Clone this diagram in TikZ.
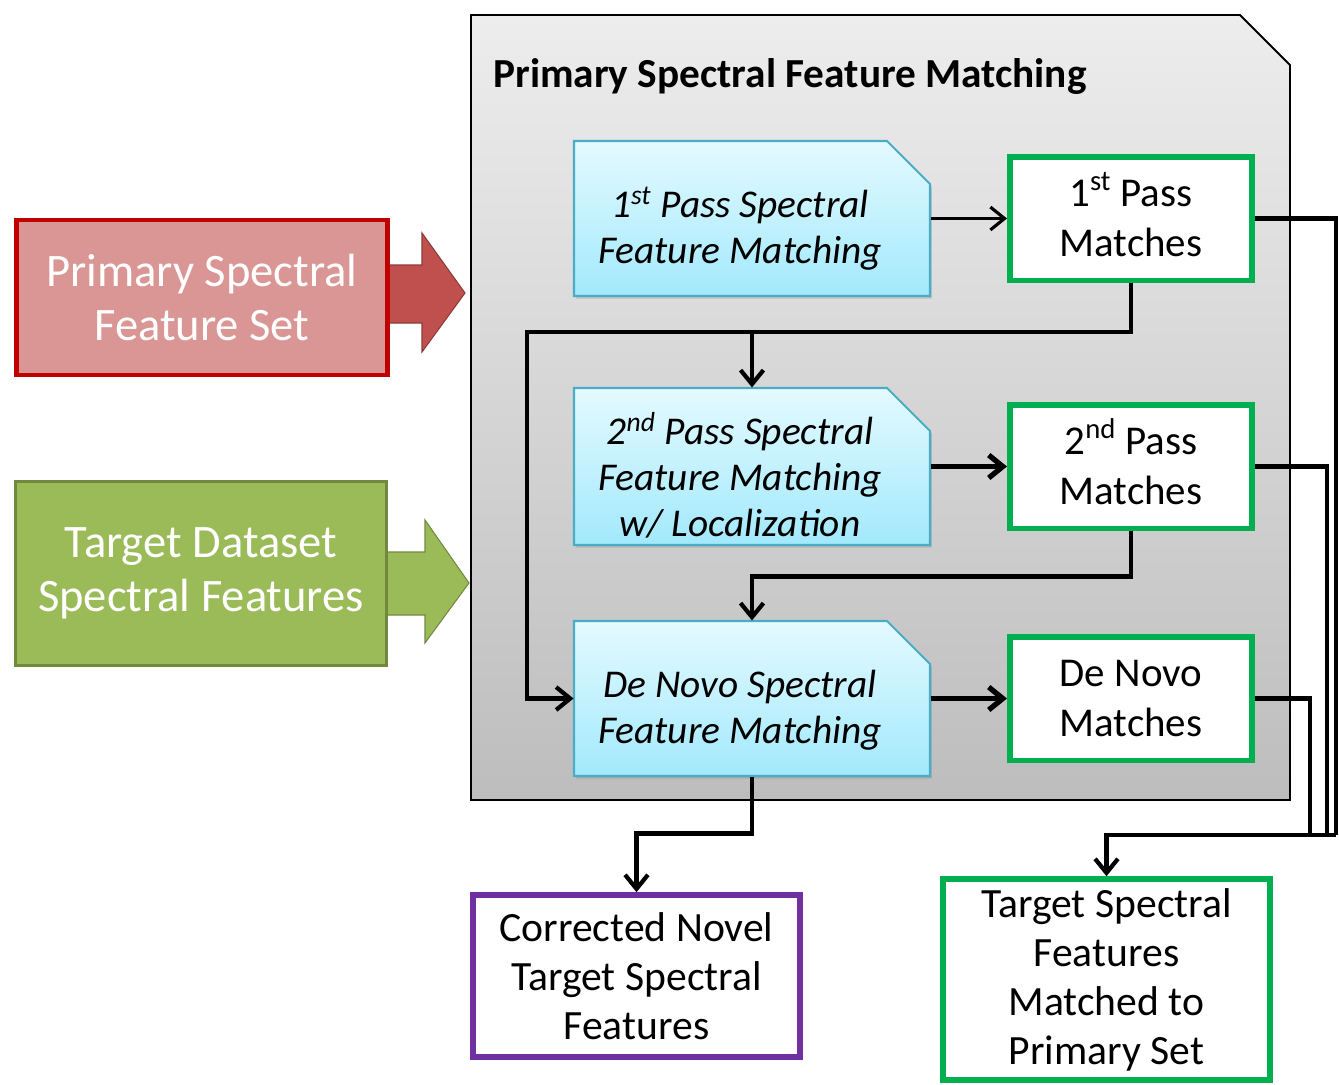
\documentclass[tikz,border=0pt]{standalone}
\usepackage{fontspec}
\setmainfont{Carlito}
\usetikzlibrary{positioning}
\usetikzlibrary{calc}
\usetikzlibrary{arrows.meta}
\usetikzlibrary{shadows}

\definecolor{inred}{HTML}{D99694}
\definecolor{inredline}{HTML}{C00000}
\definecolor{arrred}{HTML}{C0504D}
\definecolor{arrredline}{HTML}{8C3A38}
\definecolor{ingreen}{HTML}{9BBB59}
\definecolor{ingreenline}{HTML}{71893F}
\definecolor{passtop}{HTML}{E4FAFF}
\definecolor{passbot}{HTML}{A2E9FC}
\definecolor{passline}{HTML}{4BACC6}
\definecolor{matchline}{HTML}{00B050}
\definecolor{novelline}{HTML}{7030A0}
\definecolor{paneltop}{HTML}{EDEDED}
\definecolor{panelbot}{HTML}{BDBDBD}

\newcommand{\ord}[1]{\smash{\textsuperscript{#1}}}

\begin{document}
\begin{tikzpicture}[x=0.02cm,y=-0.02cm,semithick,
		wire/.style={line width=2.4pt,-{Straight Barb[length=8pt,width=13pt]}}]
		\tikzstyle{source}=[draw,rectangle,minimum width=7.42cm,align=center,text=white,
		font=\fontsize{26.5}{30.5}\selectfont]
		\tikzstyle{passframe}=[draw=passline,line width=1.2pt,top color=passtop,bottom color=passbot,
		drop shadow={shadow xshift=1pt,shadow yshift=-1.5pt,opacity=.3}]
		\tikzstyle{pass}=[minimum width=7.12cm,minimum height=3.1cm]
		\tikzstyle{passtext}=[align=center,font=\itshape\fontsize{22.4}{26.2}\selectfont]
		\tikzstyle{match}=[draw=matchline,line width=3.4pt,fill=white,minimum width=4.84cm,
		minimum height=2.48cm,align=center,font=\fontsize{23.3}{28.4}\selectfont]
		\tikzstyle{result}=[line width=3.2pt,fill=white,minimum width=6.54cm,align=center,
		font=\fontsize{23.7}{27.9}\selectfont]
		
		\useasboundingbox (0,0) rectangle (1339,1085);
		
		% matching panel
		\path[draw=black,line width=1.1pt,top color=paneltop,bottom color=panelbot]
		(471,15) -- (1240,15) -- (1290,65) -- (1290,800) -- (471,800) -- cycle;
		\node[anchor=west,font=\bfseries\fontsize{23.5}{27}\selectfont] (title) at (487,77) {Primary Spectral Feature Matching};
		
		% input arrows
		\draw[arrredline,fill=arrred,line width=0.6pt] (388,265) -- (422,265) -- (422,233) -- (465,293)
		-- (422,352) -- (422,323) -- (388,323) -- cycle;
		\draw[ingreenline,fill=ingreen,line width=0.6pt] (386,552) -- (425,552) -- (425,520) -- (469,583)
		-- (425,643) -- (425,615) -- (386,615) -- cycle;
		
		\node[source,draw=inredline,line width=2.8pt,fill=inred,minimum height=3.1cm] (prim) at (202,297.5) {Primary Spectral\\Feature Set};
		\node[source,draw=ingreenline,line width=1.7pt,fill=ingreen,minimum height=3.68cm] (tgt) at (201,573.5) {Target Dataset\\Spectral Features};
		
		% cut-corner boxes of the three passes
		\draw[passframe] (574,141) -- (887,141) -- (930,184) -- (930,296) -- (574,296) -- cycle;
		\draw[passframe] (574,388) -- (887,388) -- (930,431) -- (930,545) -- (574,545) -- cycle;
		\draw[passframe] (574,621) -- (887,621) -- (930,664) -- (930,776) -- (574,776) -- cycle;
		
		\node[pass]                       (p1) at (752,218.5) {};
		\node[pass,minimum height=3.14cm] (p2) at (752,466.5) {};
		\node[pass]                       (p3) at (752,698.5) {};
		\node[passtext] (p1text) at ([shift={(-12,12)}]p1.center) {1\ord{st} Pass Spectral\\Feature Matching};
		\node[passtext] (p2text) at ([shift={(-12,11)}]p2.center) {2\ord{nd} Pass Spectral\\Feature Matching\\w/ Localization};
		\node[passtext] (p3text) at ([shift={(-12,12)}]p3.center) {De Novo Spectral\\Feature Matching};
		
		\node[match] (m1) [right=1.53cm of p1] {1\ord{st} Pass\\Matches};
		\node[match] (m2) [right=1.53cm of p2] {2\ord{nd} Pass\\Matches};
		\node[match] (m3) [right=1.53cm of p3] {De Novo\\Matches};
		
		\node[result,draw=novelline,minimum height=3.24cm] (novel) at (636.5,976) {Corrected Novel\\Target Spectral\\Features};
		\node[result,draw=matchline,minimum height=4.02cm] (matched) at (1106.5,979.5) {Target Spectral\\Features\\Matched to\\Primary Set};
		
		% connectors inside the panel
		\coordinate (bus1) at (527,332);
		\draw[wire,line width=1.8pt] (p1) -- (m1);
		\draw[wire,line width=3pt] (p2) -- (m2);
		\draw[wire,line width=3pt] (p3) -- (m3);
		\draw[wire] (m1.south) |- (bus1) |- (p3.west);
		\draw[wire] (p2.north |- bus1) -- (p2.north);
		\draw[wire] (m2.south) -- ++(0,45) -| (p3.north);
		\draw[wire] (p3.south) -- ++(0,57) -| (novel.north);
		
		% collected matches
		\coordinate (r1) at (1336,835);
		\coordinate (r2) at (1327,835);
		\coordinate (r3) at (1310,835);
		\draw[line width=2.4pt] (m1.east) -| (r1);
		\draw[line width=2.4pt] (m2.east) -| (r2);
		\draw[line width=2.4pt] (m3.east) -| (r3);
		\draw[wire] (r1) -| (matched.north);
		
\end{tikzpicture}
\end{document}
